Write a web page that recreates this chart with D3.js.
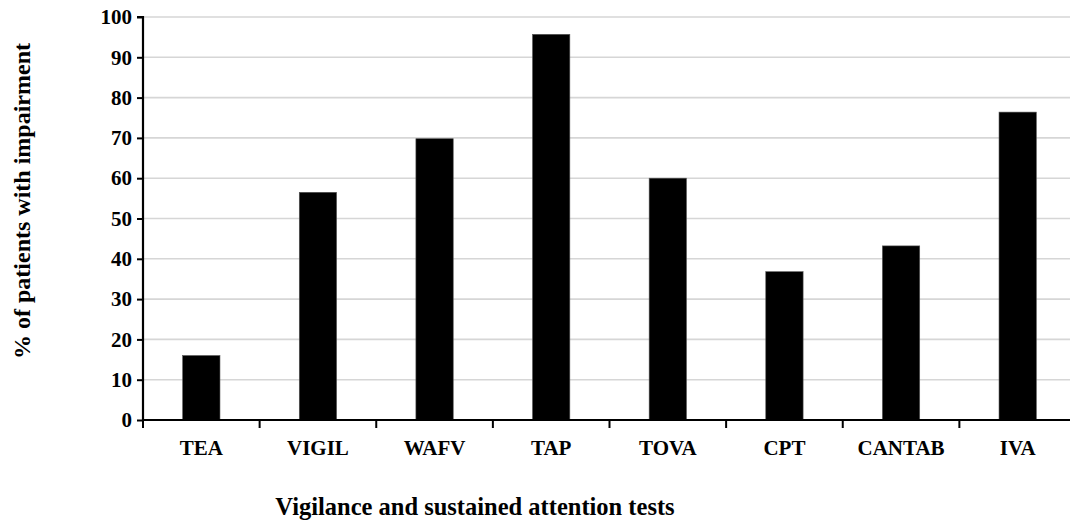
<!DOCTYPE html>
<html><head><meta charset="utf-8">
<script src="https://cdn.jsdelivr.net/npm/d3@7"></script>
<style>
html,body{margin:0;padding:0;background:#fff;overflow:hidden}
</style></head><body>
<svg id="c" width="1070" height="523"></svg>
<script>
const categories = ["TEA","VIGIL","WAFV","TAP","TOVA","CPT","CANTAB","IVA"];
const values = [16, 56.5, 69.8, 95.7, 60, 36.8, 43.2, 76.4];
const yTicks = [0,10,20,30,40,50,60,70,80,90,100];
const yTitle = "% of patients with impairment";
const xTitle = "Vigilance and sustained attention tests";

(function(){
const FONT = "'Liberation Serif', 'DejaVu Serif', 'Times New Roman', Times, serif";
const svg = d3.select("#c");
const mLeft = 143, mRight = 1076, mTop = 17, mBottom = 420;
const x = d3.scaleBand().domain(categories).range([mLeft, mRight]).paddingInner(0.68).paddingOuter(0.34);
const y = d3.scaleLinear().domain([0,100]).range([mBottom, mTop]);

// gridlines
svg.append("g").selectAll("line").data(yTicks.filter(d=>d>0)).join("line")
  .attr("x1", mLeft).attr("x2", 1070).attr("y1", d=>y(d)).attr("y2", d=>y(d))
  .attr("stroke", "#d6d6d6").attr("stroke-width", 1.6);

// bars
svg.append("g").selectAll("rect").data(values).join("rect")
  .attr("x", (d,i)=>x(categories[i])).attr("width", x.bandwidth())
  .attr("y", d=>y(d)).attr("height", d=>mBottom - y(d))
  .attr("fill", "#000").attr("stroke", "#555").attr("stroke-width", 0.6);

// y axis
const ya = svg.append("g").attr("transform", `translate(${mLeft},0)`)
  .call(d3.axisLeft(y).tickValues(yTicks).tickSize(6).tickPadding(5));
ya.attr("font-family", null).attr("font-size", null);
ya.select(".domain").attr("stroke", "#000").attr("stroke-width", 2.2).attr("d", `M-6,${mTop}H0V${mBottom}`);
ya.selectAll(".tick line").attr("stroke", "#000").attr("stroke-width", 2);
ya.selectAll(".tick text").style("font-size", "21px").style("font-family", FONT).style("font-weight","bold").attr("fill","#000");

// x axis with ticks at band boundaries
const xa = svg.append("g").attr("transform", `translate(0,${mBottom})`);
xa.append("line").attr("x1", mLeft).attr("x2", 1070).attr("y1", 0).attr("y2", 0).attr("stroke", "#000").attr("stroke-width", 2.2);
const step = x.step();
xa.selectAll("line.t").data(d3.range(categories.length + 1)).join("line").attr("class","t")
  .attr("x1", i => mLeft + i*step).attr("x2", i => mLeft + i*step)
  .attr("y1", 0).attr("y2", 8).attr("stroke", "#000").attr("stroke-width", 2);
xa.selectAll("text").data(categories).join("text")
  .attr("x", d => x(d) + x.bandwidth()/2).attr("y", 35)
  .attr("text-anchor", "middle").style("font-size", "21px").style("font-family", FONT).style("font-weight","bold").text(d=>d);

// titles
svg.append("text").attr("x", 475).attr("y", 515).attr("text-anchor","middle")
  .style("font-size","24.5px").style("font-family", FONT).style("font-weight","bold").text(xTitle);
svg.append("text").attr("transform", "translate(30,201) rotate(-90)").attr("text-anchor","middle")
  .style("font-size","24px").style("font-family", FONT).style("font-weight","bold").text(yTitle);
})();
</script>
</body></html>
